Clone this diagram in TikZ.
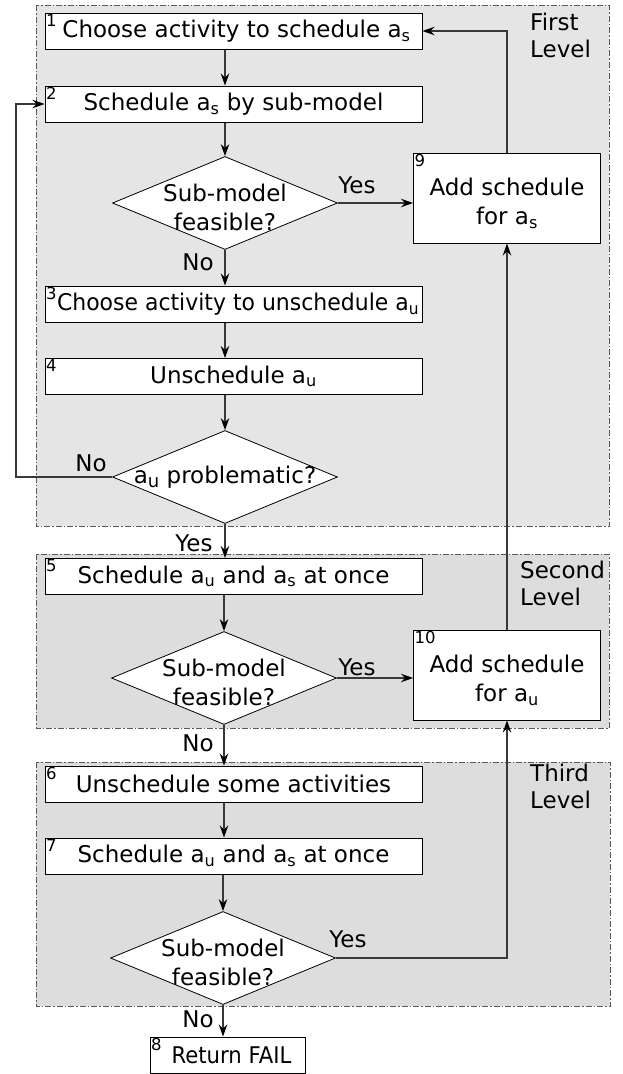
\documentclass[tikz,border=0pt]{standalone}
\usepackage{fontspec}
\usepackage{graphicx}
\setmainfont{DejaVu Sans}
\usetikzlibrary{shapes.geometric,arrows.meta,calc}
\definecolor{lvlA}{gray}{0.90}
\definecolor{lvlB}{gray}{0.865}
\definecolor{connc}{gray}{0.22}
\newcommand{\sbs}[1]{\textsubscript{#1}}
\begin{document}
\begin{tikzpicture}[x=1pt,y=-1pt,
  every node/.style={font=\fontsize{23}{29}\selectfont},
  procbox/.style={draw=black, fill=white, line width=1pt, inner sep=0pt,
                  minimum width=377pt, minimum height=36pt},
  sidebox/.style={procbox, minimum width=187pt, minimum height=90pt, align=center},
  decis/.style={shape=diamond, draw=black, fill=white, line width=0.8pt,
                inner sep=0pt, minimum width=225pt, minimum height=93pt},
  levelframe/.style={draw=gray!70!black, line width=0.8pt,
                     dash pattern=on 6pt off 2pt on 1.5pt off 2pt},
  conn/.style={draw=connc, line width=1.1pt,
               -{Stealth[length=12pt,width=8.5pt,inset=4pt,color=black]}},
  edgelbl/.style={inner sep=0pt, anchor=center},
  levellbl/.style={inner sep=0pt, anchor=north west, align=left,
                   font=\fontsize{23}{27}\selectfont},
  numlbl/.style={anchor=north west, inner sep=1.5pt, font=\fontsize{16.5}{16.5}\selectfont},
  dtext/.style={align=center, inner sep=0pt}
]
\fill[white] (0,0) rectangle (623,1074);
\useasboundingbox (0,0) rectangle (623,1074);

% level frames
\draw[levelframe, fill=lvlA] (36,5) rectangle (609,526);
\draw[levelframe, fill=lvlB] (36,554) rectangle (609,728);
\draw[levelframe, fill=lvlB] (36,762) rectangle (610,1006);

\node[levellbl] (L1) at (530,13) {First\\Level};
\node[levellbl] (L2) at (520,561) {Second\\Level};
\node[levellbl] (L3) at (530,764) {Third\\Level};

% nodes
\node[procbox, label={[numlbl]north west:1}] (B1) at (233.5,31) {\hspace*{6pt}Choose activity to schedule a\sbs{s}};
\node[procbox, label={[numlbl]north west:2}] (B2) at (233.5,104) {Schedule a\sbs{s} by sub-model};
\node[decis, label={[dtext, yshift=-4pt]center:Sub-model\\feasible?}] (D1) at (225,203) {};
\node[sidebox, label={[numlbl]north west:9}] (B9) at (507,198) {\rule{0pt}{28pt}Add schedule\\for a\sbs{s}};
\node[procbox, label={[numlbl]north west:3}] (B3) at (233.5,304) {\hspace*{9pt}\scalebox{0.955}[1]{Choose activity to unschedule a\sbs{u}}};
\node[procbox, label={[numlbl]north west:4}] (B4) at (233.5,376.5) {Unschedule a\sbs{u}};
\node[decis, label={[dtext]center:a\raisebox{-4pt}{\fontsize{18}{18}\selectfont u} problematic?}] (D2) at (225,477) {};

\node[procbox, label={[numlbl]north west:5}] (B5) at (233.5,576.5) {Schedule a\sbs{u} and a\sbs{s} at once};
\node[decis, label={[dtext, yshift=-4pt]center:Sub-model\\feasible?}] (D3) at (224,678) {};
\node[sidebox, label={[numlbl]north west:10}] (B10) at (507,675) {\rule{0pt}{28pt}Add schedule\\for a\sbs{u}};

\node[procbox, label={[numlbl]north west:6}] (B6) at (233.5,784) {Unschedule some activities};
\node[procbox, label={[numlbl]north west:7}] (B7) at (233.5,856) {Schedule a\sbs{u} and a\sbs{s} at once};
\node[decis, label={[dtext, yshift=-4pt]center:Sub-model\\feasible?}] (D4) at (223,958) {};
\node[procbox, minimum width=155pt, label={[numlbl]north west:8}] (B8) at (227.5,1055) {\hspace*{8pt}\scalebox{0.92}[1]{Return FAIL}};

\coordinate (loopx) at (16,0);

% connectors
\draw[conn] (B1.south -| D1.north) -- (B2.north -| D1.north);
\draw[conn] (B2.south -| D1.north) -- (D1.north);
\draw[conn] (D1.east) -- (D1.east -| B9.west);
\draw[conn] (D1.south) -- (B3.north -| D1.south);
\draw[conn] (B3.south -| D2.north) -- (B4.north -| D2.north);
\draw[conn] (B4.south -| D2.north) -- (D2.north);
\draw[conn] (D2.west) -- (D2.west -| loopx) |- (B2.west);
\draw[conn] (D2.south) -- (B5.north -| D2.south);
\draw[conn] (B5.south -| D3.north) -- (D3.north);
\draw[conn] (D3.east) -- (D3.east -| B10.west);
\draw[conn] (D3.south) -- (B6.north -| D3.south);
\draw[conn] (B6.south -| D3.south) -- (B7.north -| D3.south);
\draw[conn] (B7.south -| D4.north) -- (D4.north);
\draw[conn] (D4.east) -| (B10.south);
\draw[conn] (D4.south) -- (B8.north -| D4.south);
\draw[conn] (B10.north) -- (B9.south);
\draw[conn] (B9.north) |- (B1.east);

% edge labels
\node[edgelbl] (yes1) at ($(D1.east)+(19,-18)$) {Yes};
\node[edgelbl] (no1) at ($(D1.south)+(-27,12)$) {No};
\node[edgelbl] (no2) at ($(D2.west)+(-21,-14)$) {No};
\node[edgelbl] (yes2) at ($(D2.south)+(-31,19)$) {Yes};
\node[edgelbl] (yes3) at ($(D3.east)+(20,-11)$) {Yes};
\node[edgelbl] (no3) at ($(D3.south)+(-26,18)$) {No};
\node[edgelbl] (yes4) at ($(D4.east)+(12,-19)$) {Yes};
\node[edgelbl] (no4) at ($(D4.south)+(-25,14)$) {No};
\end{tikzpicture}
\end{document}
